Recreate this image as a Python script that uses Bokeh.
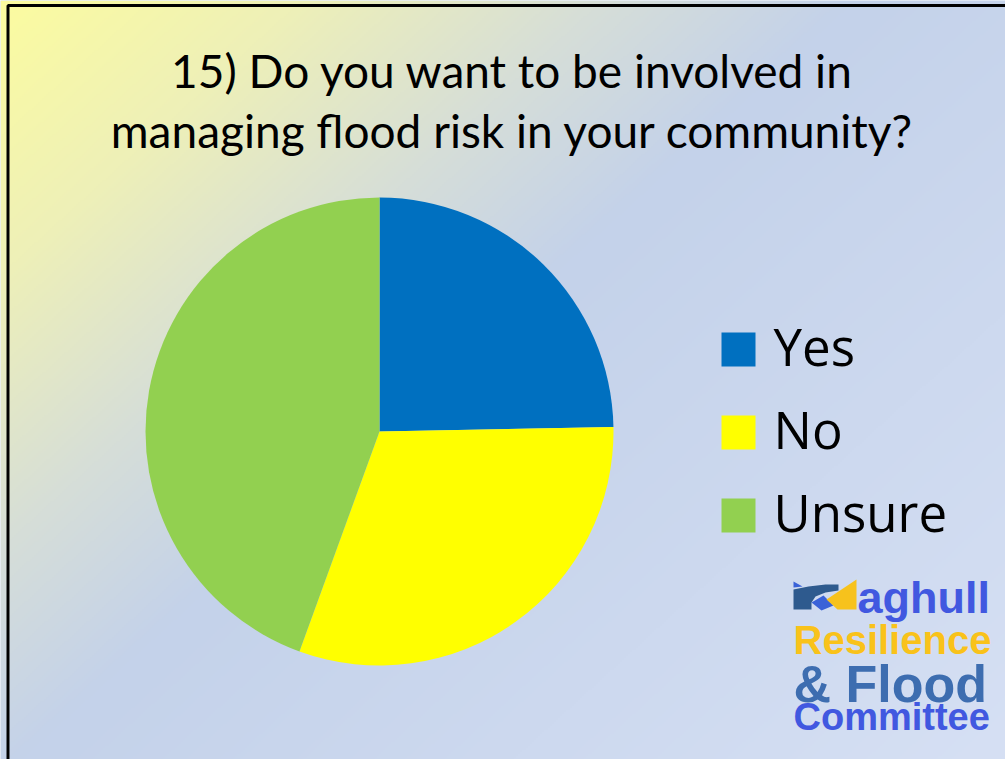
import numpy as np
from bokeh.plotting import figure
from bokeh.models import Range1d
from bokeh.core.properties import value
from bokeh.embed import file_html
from bokeh.resources import INLINE

# ---- data ----
categories = ["Yes", "No", "Unsure"]
counts = [20, 25, 36]
colors = ["#0070C0", "#FFFF00", "#92D050"]
title_lines = ["15) Do you want to be involved in",
               "managing flood risk in your community?"]
logo_lines = ["aghull", "Resilience", "& Flood", "Committee"]
logo_colors = ["#4158E0", "#F9C21A", "#3D6DB0", "#4158E0"]

W, H = 1005, 759


def up(y):
    return H - np.asarray(y, dtype=float)


def base(y, size, k=0.4):
    # anchor so that the alphabetic baseline lands at reference row y
    return float(up(y) + k * size)


p = figure(width=W, height=H, x_range=Range1d(0, W), y_range=Range1d(0, H),
           output_backend="svg", toolbar_location=None, min_border=0,
           x_axis_type=None, y_axis_type=None)
p.grid.visible = False
p.outline_line_color = None
p.background_fill_color = "#D6E0F2"
p.border_fill_color = "white"

# ---- gradient background ----
nx, ny = 503, 380
xs = (np.arange(nx) + 0.5) * W / nx
Ys = (np.arange(ny) + 0.5) * H / ny
XX, YY = np.meshgrid(xs, up(Ys))
t = XX / 1005 + 0.83 * YY / 759
st = [0.0, 0.30, 0.60, 0.85, 1.83]
sc = np.array([[252, 252, 160], [238, 240, 184], [214, 222, 216],
               [196, 210, 234], [214, 224, 244]], dtype=float)
img = np.empty((ny, nx), dtype=np.uint32)
view = img.view(dtype=np.uint8).reshape((ny, nx, 4))
for k in range(3):
    view[..., k] = np.interp(t, st, sc[:, k]).astype(np.uint8)
view[..., 3] = 255
p.image_rgba(image=[img], x=0, y=0, dw=W, dh=H)

# ---- slide border (top + left) ----
p.line(x=[7.5, 7.5, W], y=[0, float(up(5)), float(up(5))], line_color="black", line_width=3)

# ---- title ----
TS = 46
p.text(x=[512, 512], y=[base(88, TS), base(148, TS)], text=title_lines,
       text_font=value("Lato"), text_font_size=f"{TS}px", text_color="black",
       text_align="center", text_baseline="alphabetic")

# ---- pie ----
total = float(sum(counts))
ends = np.cumsum(np.array(counts) / total) * 2 * np.pi
starts = np.concatenate([[0.0], ends[:-1]])
p.wedge(x=379, y=float(up(431)), radius=234,
        start_angle=list(np.pi / 2 - ends), end_angle=list(np.pi / 2 - starts),
        fill_color=colors, line_color=None)

# ---- legend (manual) ----
LS = 51
leg_rows = [349 + i * 83 for i in range(len(categories))]
p.rect(x=738, y=[float(up(r)) for r in leg_rows], width=34, height=34,
       fill_color=colors, line_color=None)
p.text(x=773, y=[base(r + 17, LS) for r in leg_rows], text=categories,
       text_font=value("Open Sans"), text_font_size=f"{LS}px", text_color="black",
       text_align="left", text_baseline="alphabetic")

# ---- logo ----
icon_xs = [
    [793, 802, 793],
    [793, 808, 825, 838, 838, 825, 815, 811, 811, 793],
    [811, 823, 833, 821],
    [826, 856, 856, 837],
]
icon_ys = [
    [581, 586, 587],
    [589, 586, 584, 584, 590, 592, 596, 602, 609, 609],
    [602, 595, 605, 610],
    [599, 579, 609, 609],
]
icon_cols = ["#3A62D8", "#2E5A8E", "#3A62D8", "#F7C21C"]
p.patches(xs=icon_xs, ys=[list(up(v)) for v in icon_ys], fill_color=icon_cols, line_color=None)

logo_x = [857, 793, 793, 793]
logo_base = [613, 654, 702, 730]
logo_sizes = [45, 40, 52, 38]
for txt, col, xx, yb, fs in zip(logo_lines, logo_colors, logo_x, logo_base, logo_sizes):
    p.text(x=[xx], y=[base(yb, fs, 0.36)], text=[txt], text_font=value("Liberation Sans"),
           text_font_style="bold", text_font_size=f"{fs}px", text_color=col,
           text_align="left", text_baseline="alphabetic")

open("out.html", "w").write(file_html(p, INLINE))
